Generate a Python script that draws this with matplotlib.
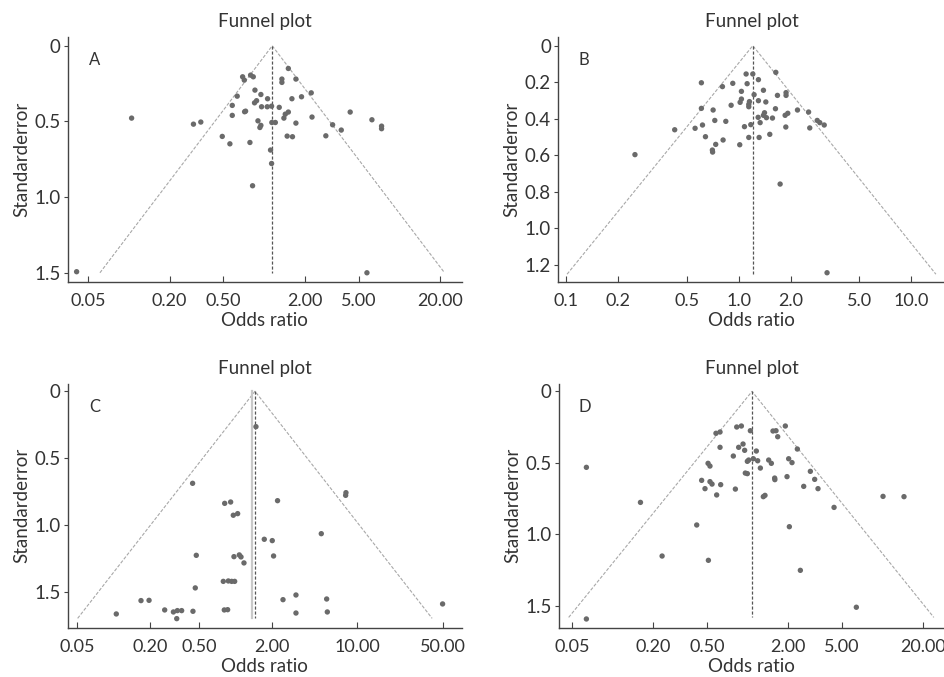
import matplotlib.pyplot as plt

plt.rcParams['font.family'] = ['Lato', 'DejaVu Sans']

# ---- panel A ----
or_a = [1.51, 0.693, 0.713, 0.794, 0.831, 1.353, 1.353, 1.718, 0.855, 0.632,
        0.946, 2.23, 1.89, 0.879, 0.849, 1.06, 1.605, 0.581, 0.957, 1.054,
        1.135, 1.293, 0.717, 0.729, 0.581, 1.51, 1.433, 1.40, 2.26, 4.33,
        0.30, 0.34, 0.90, 1.14, 1.21, 1.718, 0.93, 0.946, 3.21, 6.27,
        7.39, 7.39, 3.72, 0.49, 1.48, 1.62, 2.86, 0.558, 0.785, 1.115,
        1.135, 0.821, 0.1046, 0.041, 5.76]
se_a = [0.150, 0.205, 0.227, 0.194, 0.205, 0.220, 0.242, 0.220, 0.293, 0.333,
        0.322, 0.311, 0.337, 0.363, 0.377, 0.350, 0.350, 0.394, 0.403, 0.403,
        0.399, 0.407, 0.436, 0.432, 0.460, 0.438, 0.452, 0.478, 0.471, 0.438,
        0.518, 0.504, 0.496, 0.507, 0.507, 0.511, 0.540, 0.526, 0.522, 0.489,
        0.531, 0.548, 0.557, 0.599, 0.597, 0.601, 0.595, 0.648, 0.639, 0.689,
        0.778, 0.925, 0.478, 1.493, 1.500]

# ---- panel B ----
or_b = [1.64, 1.103, 1.206, 1.30, 0.607, 0.804, 0.923, 1.118, 1.39, 1.036,
        1.227, 1.676, 1.88, 1.88, 1.036, 1.018, 1.153, 1.143, 1.143, 1.30,
        1.435, 0.903, 0.607, 0.71, 1.632, 2.19, 2.54, 1.857, 1.924, 1.41,
        1.39, 1.447, 1.568, 1.295, 0.726, 0.841, 1.33, 0.616, 0.425, 0.558,
        1.079, 1.174, 1.874, 2.58, 2.85, 2.95, 3.13, 0.641, 0.811, 1.143,
        1.312, 1.513, 0.735, 1.013, 0.703, 0.705, 0.25, 1.737, 3.25]
se_b = [0.146, 0.155, 0.155, 0.186, 0.203, 0.224, 0.206, 0.208, 0.244, 0.250,
        0.268, 0.272, 0.257, 0.272, 0.292, 0.310, 0.306, 0.321, 0.334, 0.301,
        0.308, 0.326, 0.343, 0.352, 0.345, 0.352, 0.363, 0.381, 0.370, 0.367,
        0.381, 0.394, 0.396, 0.392, 0.409, 0.414, 0.421, 0.434, 0.460, 0.452,
        0.443, 0.432, 0.445, 0.450, 0.409, 0.421, 0.434, 0.498, 0.516, 0.502,
        0.502, 0.485, 0.540, 0.542, 0.571, 0.582, 0.596, 0.757, 1.242]

# ---- panel C ----
or_c = [1.47, 0.444, 0.814, 0.911, 2.21, 8.05, 8.0, 0.958, 1.04, 5.05,
        1.72, 2.00, 0.476, 0.97, 1.073, 1.108, 2.05, 1.172, 0.793, 0.872,
        0.929, 0.983, 0.467, 0.105, 0.1675, 0.195, 0.262, 0.309, 0.333, 0.361,
        0.329, 0.447, 0.808, 0.861, 2.45, 3.13, 3.13, 5.59, 5.66, 49.96]
se_c = [0.265, 0.689, 0.839, 0.829, 0.819, 0.759, 0.779, 0.928, 0.916, 1.066,
        1.108, 1.118, 1.228, 1.238, 1.225, 1.240, 1.233, 1.285, 1.423, 1.420,
        1.423, 1.423, 1.472, 1.667, 1.567, 1.565, 1.637, 1.652, 1.642, 1.642,
        1.702, 1.647, 1.637, 1.635, 1.560, 1.525, 1.660, 1.555, 1.652, 1.592]

# ---- panel D ----
or_d = [0.585, 0.627, 0.834, 0.903, 1.053, 1.55, 1.632, 1.914, 1.68, 0.627,
        0.929, 0.862, 0.955, 1.166, 0.787, 2.35, 0.511, 0.528, 1.0, 1.023,
        1.108, 1.193, 1.44, 1.507, 2.026, 2.145, 1.249, 0.966, 1.0, 1.595,
        1.60, 1.97, 2.935, 3.16, 3.345, 2.62, 0.458, 0.528, 0.547, 0.634,
        0.485, 0.815, 0.592, 1.314, 1.352, 4.40, 0.421, 2.05, 0.0639, 0.161,
        0.233, 0.514, 2.474, 6.44, 10.16, 14.54, 0.0639]
se_d = [0.293, 0.284, 0.249, 0.242, 0.275, 0.277, 0.275, 0.242, 0.317, 0.391,
        0.368, 0.391, 0.412, 0.417, 0.452, 0.403, 0.503, 0.522, 0.489, 0.480,
        0.471, 0.485, 0.480, 0.503, 0.471, 0.498, 0.536, 0.571, 0.575, 0.606,
        0.617, 0.596, 0.559, 0.615, 0.680, 0.664, 0.622, 0.631, 0.648, 0.652,
        0.680, 0.683, 0.724, 0.736, 0.727, 0.811, 0.934, 0.946, 0.531, 0.776,
        1.151, 1.181, 1.251, 1.509, 0.734, 0.736, 1.591]

# funnel outline: left foot, apex, right foot
funnel_or = {'A': [0.061, 1.148, 21.6], 'B': [0.101, 1.206, 13.9],
             'C': [0.0506, 1.443, 41.0], 'D': [0.0472, 1.083, 24.2]}
funnel_se = {'A': 1.5, 'B': 1.25, 'C': 1.7, 'D': 1.58}

xticks = {'A': [0.05, 0.2, 0.5, 2, 5, 20], 'B': [0.1, 0.2, 0.5, 1, 2, 5, 10],
          'C': [0.05, 0.2, 0.5, 2, 10, 50], 'D': [0.05, 0.2, 0.5, 2, 5, 20]}
xlabels = {'A': ['0.05', '0.20', '0.50', '2.00', '5.00', '20.00'],
           'B': ['0.1', '0.2', '0.5', '1.0', '2.0', '5.0', '10.0'],
           'C': ['0.05', '0.20', '0.50', '2.00', '10.00', '50.00'],
           'D': ['0.05', '0.20', '0.50', '2.00', '5.00', '20.00']}
yticks = {'A': [0, 0.5, 1.0, 1.5], 'B': [0, 0.2, 0.4, 0.6, 0.8, 1.0, 1.2],
          'C': [0, 0.5, 1.0, 1.5], 'D': [0, 0.5, 1.0, 1.5]}
ylabels = {'A': ['0', '0.5', '1.0', '1.5'],
           'B': ['0', '0.2', '0.4', '0.6', '0.8', '1.0', '1.2'],
           'C': ['0', '0.5', '1.0', '1.5'], 'D': ['0', '0.5', '1.0', '1.5']}
xlims = {'A': (0.0352, 28.9), 'B': (0.0895, 15.7), 'C': (0.0419, 71.6), 'D': (0.0398, 29.3)}
ylims = {'A': (1.559, -0.06), 'B': (1.291, -0.049), 'C': (1.772, -0.057), 'D': (1.654, -0.054)}

points = {'A': (or_a, se_a), 'B': (or_b, se_b), 'C': (or_c, se_c), 'D': (or_d, se_d)}
rects = {'A': [0.0716, 0.5839, 0.4169, 0.3619], 'B': [0.5905, 0.5839, 0.4095, 0.3619],
         'C': [0.0716, 0.0724, 0.4169, 0.3609], 'D': [0.5912, 0.0724, 0.4088, 0.3609]}

fig = plt.figure(figsize=(9.45, 6.77), dpi=100)

for key in ['A', 'B', 'C', 'D']:
    ax = fig.add_axes(rects[key])
    ax.set_xscale('log')
    fx = funnel_or[key]
    fs = funnel_se[key]
    ax.plot(fx, [fs, 0, fs], color='#a8a8a8', lw=0.8, ls=(0, (3, 1.5)), zorder=1)
    if key == 'C':
        ax.plot([1.355, 1.355], [0, fs], color='#c8c8c8', lw=1.6, zorder=1)
    ax.plot([fx[1], fx[1]], [0, fs], color='#555555', lw=0.9, ls=(0, (2.5, 1.5)), zorder=2)
    xs, ys = points[key]
    ax.scatter(xs, ys, s=15, color='#6a6a6a', edgecolors='none', zorder=3)

    ax.set_xlim(*xlims[key])
    ax.set_ylim(*ylims[key])
    ax.set_xticks(xticks[key])
    ax.set_xticklabels(xlabels[key])
    ax.xaxis.set_minor_locator(plt.NullLocator())
    ax.set_yticks(yticks[key])
    ax.set_yticklabels(ylabels[key])

    for s in ['top', 'right']:
        ax.spines[s].set_visible(False)
    for s in ['left', 'bottom']:
        ax.spines[s].set_color('#444444')
        ax.spines[s].set_linewidth(1.0)
    ax.tick_params(axis='x', direction='in', length=4, width=0.8, colors='#444444',
                   labelcolor='#333333', labelsize=13, pad=8)
    ax.tick_params(axis='y', direction='out', length=3, width=0.8, colors='#444444',
                   labelcolor='#333333', labelsize=13.5, pad=2)

    ax.set_title('Funnel plot', fontsize=13.5, color='#333333', pad=7)
    ax.set_xlabel('Odds ratio', fontsize=13.5, color='#333333', labelpad=2)
    ax.set_ylabel('Standarderror', fontsize=13.5, color='#333333', labelpad=3)
    ax.text(0.068, 0.905, key, transform=ax.transAxes, fontsize=12,
            color='#333333', ha='center', va='center')

fig.savefig('out.png', dpi=100)
